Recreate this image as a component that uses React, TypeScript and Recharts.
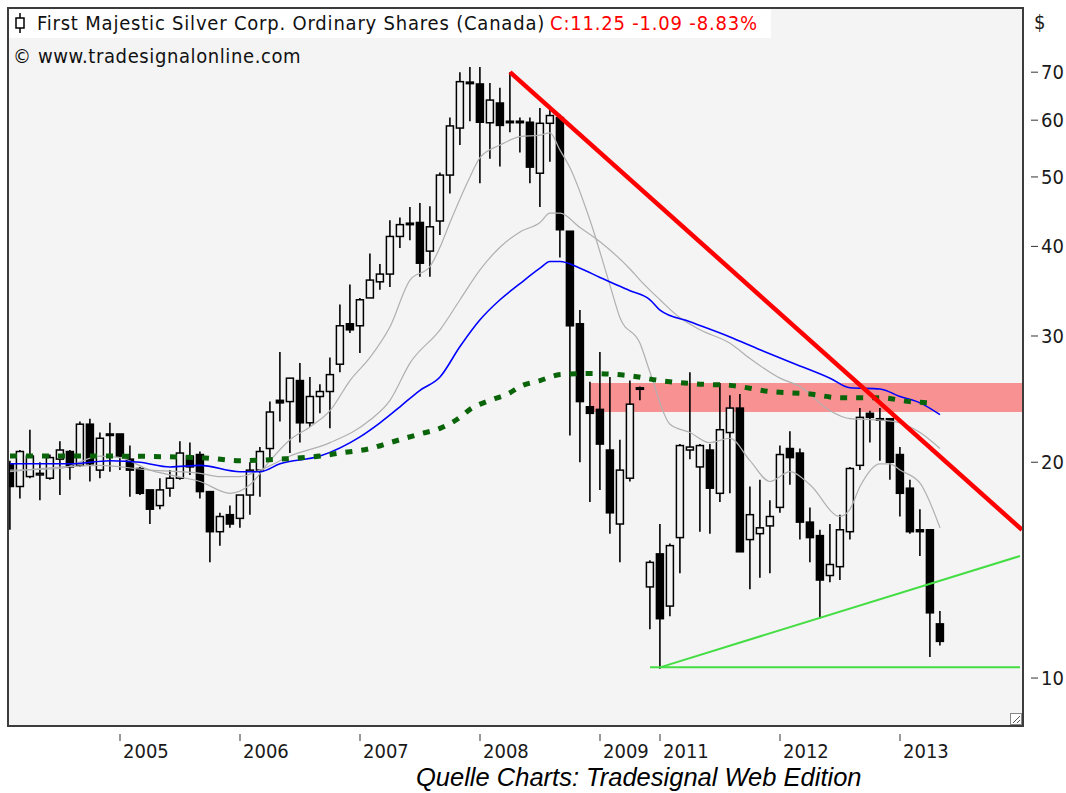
import React from "react";
import { Bar, ComposedChart, Line, ReferenceArea, XAxis, YAxis } from "recharts";

// monthly candles, index 0 = first bar on the left
const yearTicks = [11, 23, 35, 47, 59, 65, 77, 89];
const yearLabels = ["2005", "2006", "2007", "2008", "2009", "2011", "2012", "2013"];
const priceTicks = [10, 20, 30, 40, 50, 60, 70];

const opens = [
  19.9, 18.5, 19.1, 19.2, 19.0, 20.2, 20.7, 19.8, 22.6, 19.5,
  21.8, 21.9, 20.2, 19.6, 18.3, 17.4, 18.4, 19.0, 20.4, 20.5,
  18.2, 16.0, 16.9, 16.7, 18.0, 19.5, 20.9, 24.4, 24.3, 26.0,
  22.7, 24.7, 25.1, 27.4, 31.2, 31.0, 33.9, 35.7, 36.6, 41.3,
  43.0, 43.2, 39.4, 43.4, 50.3, 58.5, 67.5, 67.4, 59.5, 63.4,
  59.8, 59.6, 59.6, 50.6, 59.4, 60.5, 42.0, 31.2, 23.9, 23.7,
  20.8, 16.4, 19.0, 25.3, 13.4, 14.9, 12.6, 15.7, 20.8, 19.7,
  20.8, 18.1, 22.0, 23.8, 15.6, 15.9, 16.3, 17.3, 20.9, 20.6,
  16.5, 15.8, 13.9, 14.3, 16.0, 19.8, 23.4, 22.9, 23.0, 20.5,
  18.4, 16.1, 16.1, 11.9,
];
const highs = [
  20.1, 20.8, 22.2, 20.0, 20.5, 21.4, 20.8, 22.8, 23.0, 22.0,
  22.7, 21.9, 21.1, 19.7, 18.3, 19.0, 19.5, 21.4, 21.3, 20.7,
  18.2, 17.0, 17.4, 18.0, 20.0, 21.0, 24.3, 28.5, 26.2, 27.5,
  26.3, 25.7, 28.0, 33.2, 35.4, 33.9, 39.1, 37.8, 43.5, 43.9,
  45.4, 46.0, 45.5, 50.7, 60.5, 70.0, 71.2, 71.2, 67.6, 66.6,
  70.0, 60.5, 60.5, 62.4, 62.2, 61.1, 42.0, 32.6, 25.9, 28.5,
  26.3, 21.5, 26.0, 25.5, 14.6, 16.4, 15.4, 21.2, 26.7, 21.2,
  21.2, 25.8, 24.8, 24.9, 18.5, 18.9, 17.7, 21.1, 22.1, 20.9,
  17.3, 16.1, 16.4, 16.9, 19.7, 23.8, 23.6, 23.8, 23.0, 21.0,
  18.9, 17.2, 16.1, 12.4,
];
const lows = [
  16.1, 17.8, 19.0, 17.7, 18.9, 18.0, 18.9, 19.7, 18.8, 19.0,
  19.4, 19.5, 17.9, 18.0, 16.4, 17.2, 17.9, 18.9, 19.2, 17.8,
  14.5, 15.3, 16.2, 16.2, 16.9, 17.9, 20.1, 22.8, 20.6, 21.3,
  22.4, 23.4, 22.3, 26.7, 30.3, 28.4, 33.9, 34.8, 35.1, 39.8,
  40.8, 36.3, 36.3, 41.5, 47.4, 55.4, 59.8, 49.0, 53.0, 51.7,
  57.7, 54.1, 49.0, 45.4, 52.5, 38.6, 21.8, 20.0, 17.6, 18.3,
  15.9, 14.5, 18.8, 24.4, 11.7, 10.3, 12.2, 14.0, 20.2, 16.0,
  15.9, 17.6, 18.1, 15.0, 13.3, 13.8, 14.0, 17.0, 18.6, 15.6,
  14.5, 12.1, 13.6, 13.7, 15.6, 19.5, 21.3, 20.1, 18.9, 16.8,
  15.9, 14.8, 10.7, 11.1,
];
const closes = [
  18.5, 20.7, 20.4, 19.3, 20.3, 20.8, 19.7, 22.6, 19.9, 21.6,
  21.9, 20.4, 19.5, 18.1, 17.2, 18.3, 19.0, 20.6, 19.7, 18.2,
  16.0, 16.8, 16.4, 18.0, 19.5, 20.7, 23.5, 24.2, 26.2, 22.7,
  24.7, 25.1, 26.5, 31.0, 30.6, 33.7, 35.9, 36.6, 41.3, 42.9,
  43.1, 37.9, 42.6, 50.3, 58.9, 67.9, 67.8, 59.6, 64.0, 59.0,
  59.6, 59.8, 51.6, 59.4, 60.9, 42.2, 31.0, 24.3, 23.4, 21.2,
  17.0, 19.5, 24.1, 25.4, 14.5, 12.1, 15.3, 21.1, 21.0, 21.1,
  18.4, 22.2, 23.8, 15.0, 16.9, 16.2, 16.8, 20.5, 20.3, 16.5,
  15.7, 13.7, 14.4, 16.1, 19.6, 23.1, 23.1, 23.0, 20.0, 18.1,
  16.0, 16.0, 12.33, 11.25,
];

// averages as [bar index, price]
const fastAvg: [number, number][] = [
  [0, 19.5], [5, 19.6], [9, 20.4], [11, 20.3], [14, 19.5], [16, 19.2], [19, 18.8], [22, 18.1],
  [24, 18.6], [26, 20.1], [28, 21.5], [30, 22.4], [32, 23.6], [34, 26.0], [36, 28.0], [38, 30.9],
  [40, 35.9], [42, 37.5], [43, 39.9], [44, 43.2], [46, 50.0], [47, 53.2], [49, 55.4], [51, 56.9],
  [53, 57.2], [54, 57.6], [55, 54.5], [56, 51.5], [58, 43.5], [60, 35.3], [61, 31.8], [63, 29.3],
  [64, 26.7], [66, 22.6], [68, 22.0], [70, 21.3], [72, 21.6], [74, 20.1], [76, 18.8], [78, 19.4],
  [80, 18.6], [83, 16.8], [84, 17.2], [85, 18.5], [87, 19.9], [88, 19.9], [89, 19.5], [91, 18.7],
  [93, 16.2],
];
const slowAvg: [number, number][] = [
  [0, 19.4], [9, 19.8], [14, 19.5], [19, 19.3], [21, 19.1], [23, 19.1], [25, 19.5], [28, 20.4],
  [32, 21.3], [36, 22.9], [38, 24.4], [40, 27.5], [43, 30.6], [45, 33.7], [47, 37.1], [49, 39.9],
  [51, 41.9], [53, 43.2], [54, 44.5], [55, 44.5], [57, 42.5], [59, 40.6], [62, 37.2], [63, 35.9],
  [65, 33.7], [67, 31.8], [69, 30.6], [72, 29.3], [74, 27.9], [77, 26.2], [79, 25.5], [82, 23.6],
  [84, 23.0], [87, 22.9], [89, 22.7], [91, 22.0], [93, 20.9],
];
const blueAvg: [number, number][] = [
  [0, 19.9], [6, 19.9], [10, 20.1], [13, 20.0], [16, 19.7], [19, 19.8], [23, 19.4], [25, 19.4],
  [27, 19.9], [31, 20.4], [35, 21.7], [37, 22.7], [39, 23.9], [41, 25.2], [43, 26.3], [45, 29.0],
  [47, 31.6], [49, 33.7], [51, 35.5], [53, 37.3], [54, 38.1], [55, 38.1], [57, 37.3], [59, 36.2],
  [62, 34.7], [64, 33.7], [65, 32.6], [68, 31.4], [72, 29.9], [75, 28.7], [78, 27.6], [82, 26.2],
  [84, 25.4], [87, 25.3], [89, 24.7], [91, 24.2], [93, 23.3],
];
const greenAvg: [number, number][] = [
  [0, 20.4], [9, 20.4], [19, 20.3], [23, 20.1], [27, 20.2], [31, 20.4], [33, 20.6], [36, 20.9],
  [38, 21.3], [41, 21.9], [43, 22.3], [45, 23.1], [46, 23.7], [48, 24.4], [50, 25.0], [51, 25.5],
  [53, 26.0], [55, 26.5], [58, 26.6], [62, 26.4], [65, 26.0], [69, 25.7], [72, 25.6], [76, 25.1],
  [80, 24.9], [83, 24.6], [87, 24.6], [90, 24.3], [92, 24.2],
];

// drawn trend lines and the resistance zone
const downTrend: [number, number][] = [[50, 70.0], [101.2, 16.1]];
const riseSupport: [number, number][] = [[65, 10.35], [101, 14.8]];
const flatSupport: [number, number][] = [[64, 10.35], [101, 10.35]];
const zoneX = [58, 101.4];
const zoneY = [23.5, 25.8];

const candles = opens.map((o, i) => ({
  i, o, h: highs[i], l: lows[i], c: closes[i], range: [lows[i], highs[i]],
}));
const pts = (arr: [number, number][]) => arr.map(([i, v]) => ({ i, v }));

const PLOT_BG = "#f4f4f4";
const FONT = "'DejaVu Sans Condensed', 'DejaVu Sans', sans-serif";

function Candle(props: any) {
  const { x, y, width, height, payload } = props;
  if (height == null || !payload) return null;
  const cx = x + width / 2;
  const lh = Math.log(payload.h);
  const span = lh - Math.log(payload.l) || 1;
  const py = (v: number) => y + (height * (lh - Math.log(v))) / span;
  const up = payload.c >= payload.o;
  const top = py(Math.max(payload.o, payload.c));
  const bot = py(Math.min(payload.o, payload.c));
  return (
    <g>
      <line x1={cx} x2={cx} y1={y} y2={y + height} stroke="#000" strokeWidth={1.6} />
      <rect
        x={cx - 3.5}
        y={top}
        width={7}
        height={Math.max(bot - top, 1.5)}
        fill={up ? PLOT_BG : "#000"}
        stroke="#000"
        strokeWidth={1.5}
      />
    </g>
  );
}

function YearTick({ x, payload }: any) {
  const label = yearLabels[yearTicks.indexOf(payload.value)];
  return (
    <g>
      <line x1={x} x2={x} y1={734} y2={741} stroke="#333" strokeWidth={1} />
      <text x={x + 3} y={758} fontSize={20} fontFamily={FONT} fill="#1a1a1a">{label}</text>
    </g>
  );
}

function PriceTick({ y, payload }: any) {
  return (
    <g>
      <line x1={1031} x2={1038} y1={y} y2={y} stroke="#333" strokeWidth={1} />
      <text x={1041} y={y + 7} fontSize={20} fontFamily={FONT} fill="#1a1a1a">{payload.value}</text>
    </g>
  );
}

export default function App() {
  return (
    <div style={{ position: "absolute", left: 0, top: 0, width: 1066, height: 793, background: "#fff", overflow: "hidden" }}>
      <div style={{ position: "absolute", left: 7, top: 7, width: 1017, height: 720, background: PLOT_BG }} />
      <div style={{ position: "absolute", left: 0, top: 0 }}>
        <ComposedChart width={1066} height={793} data={candles} margin={{ top: 7, right: 0, bottom: 0, left: 7 }}>
          <XAxis
            dataKey="i"
            type="number"
            domain={[-0.3, 101.4]}
            allowDataOverflow
            ticks={yearTicks}
            interval={0}
            height={66}
            axisLine={false}
            tickLine={false}
            tick={<YearTick />}
          />
          <YAxis
            orientation="right"
            type="number"
            scale="log"
            domain={[8.545, 86.3]}
            allowDataOverflow
            ticks={priceTicks}
            interval={0}
            width={42}
            axisLine={false}
            tickLine={false}
            tick={<PriceTick />}
          />
          <Bar dataKey="range" barSize={7} shape={<Candle />} isAnimationActive={false} />
          <ReferenceArea
            x1={zoneX[0]}
            x2={zoneX[1]}
            y1={zoneY[0]}
            y2={zoneY[1]}
            fill="#ff0000"
            fillOpacity={0.4}
            stroke="none"
            ifOverflow="hidden"
          />
          <Line data={pts(slowAvg)} dataKey="v" type="monotone" stroke="#b0b0b0" strokeWidth={1.2} dot={false} isAnimationActive={false} />
          <Line data={pts(fastAvg)} dataKey="v" type="monotone" stroke="#b0b0b0" strokeWidth={1.2} dot={false} isAnimationActive={false} />
          <Line data={pts(blueAvg)} dataKey="v" type="monotone" stroke="#0000ff" strokeWidth={1.6} dot={false} isAnimationActive={false} />
          <Line data={pts(greenAvg)} dataKey="v" type="monotone" stroke="#0a640a" strokeWidth={5} strokeDasharray="7 9" dot={false} isAnimationActive={false} />
          <Line data={pts(flatSupport)} dataKey="v" type="linear" stroke="#44dd44" strokeWidth={2} dot={false} isAnimationActive={false} />
          <Line data={pts(riseSupport)} dataKey="v" type="linear" stroke="#44dd44" strokeWidth={2} dot={false} isAnimationActive={false} />
          <Line data={pts(downTrend)} dataKey="v" type="linear" stroke="#ff0000" strokeWidth={4.5} dot={false} isAnimationActive={false} />
        </ComposedChart>
      </div>
      <div style={{ position: "absolute", left: 7, top: 7, width: 1017, height: 720, border: "2px solid #3c3c3c", boxSizing: "border-box", pointerEvents: "none" }} />
      <div style={{ position: "absolute", left: 9, top: 9, width: 762, height: 29, background: "#fff" }} />
      <div style={{ position: "absolute", left: 13, top: 11, fontFamily: FONT, fontSize: 20, letterSpacing: 0.8, whiteSpace: "nowrap", display: "flex", alignItems: "center" }}>
        <svg width={14} height={22} style={{ marginRight: 10 }}>
          <line x1={7} x2={7} y1={1} y2={21} stroke="#000" strokeWidth={1.5} />
          <rect x={3} y={6} width={8} height={10} fill="#fff" stroke="#000" strokeWidth={1.5} />
        </svg>
        <span style={{ color: "#111" }}>First Majestic Silver Corp. Ordinary Shares (Canada)</span>
        <span style={{ color: "#ff0000", marginLeft: 5 }}>C:11.25 -1.09 -8.83%</span>
      </div>
      <div style={{ position: "absolute", left: 13, top: 44, fontFamily: FONT, fontSize: 20, letterSpacing: 0.6, color: "#111", whiteSpace: "nowrap" }}>
        © www.tradesignalonline.com
      </div>
      <div style={{ position: "absolute", left: 1034, top: 10, fontFamily: FONT, fontSize: 20, color: "#1a1a1a" }}>$</div>
      <svg style={{ position: "absolute", left: 1010, top: 713 }} width={12} height={12}>
        <rect x={0.5} y={0.5} width={11} height={11} fill="#fff" stroke="#888" />
        <line x1={3} y1={10} x2={10} y2={3} stroke="#555" />
        <line x1={7} y1={10} x2={10} y2={7} stroke="#555" />
      </svg>
      <div style={{ position: "absolute", left: 416, top: 765, lineHeight: 1, fontFamily: "'Liberation Sans', Arial, sans-serif", fontStyle: "italic", fontSize: 25.5, color: "#000", whiteSpace: "nowrap" }}>
        Quelle Charts: Tradesignal Web Edition
      </div>
    </div>
  );
}
